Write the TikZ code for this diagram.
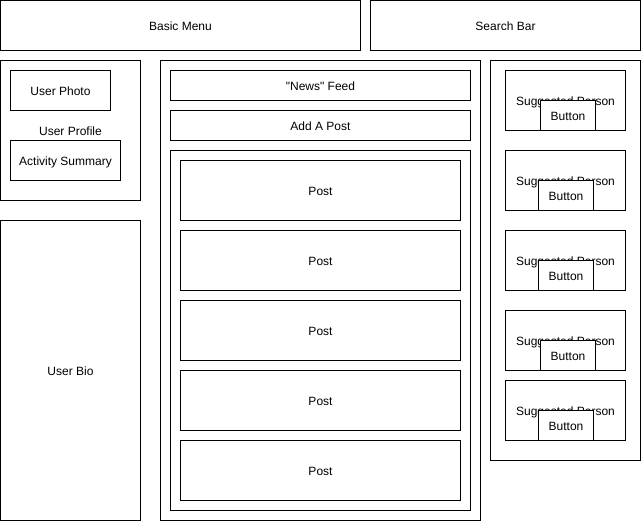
\documentclass[tikz,border=0pt]{standalone}
\usepackage{fontspec}
\setmainfont{Liberation Sans}[Ligatures=TeXOff]
\begin{document}
\begin{tikzpicture}[x=1pt,y=-1pt,
  box/.style={draw=black, fill=white, line width=1pt, inner sep=0pt, outer sep=0pt, font=\fontsize{12}{14}\selectfont, align=center, text height=9.4pt, text depth=0pt},
]
\useasboundingbox[fill=white] (0,0) rectangle (641,521);
\newcommand{\bx}[6]{\node[box, minimum width=#4pt, minimum height=#5pt] (#1) at ({#2+#4/2+0.5},{#3+#5/2+0.5}) {#6};}
% top bar
\bx{menu}{0}{0}{360}{50}{Basic Menu}
\bx{search}{370}{0}{270}{50}{Search Bar}
% left column
\bx{profile}{0}{60}{140}{140}{User Profile}
\bx{photo}{10}{70}{100}{40}{User Photo}
\bx{activity}{10}{140}{110}{40}{Activity Summary}
\bx{bio}{0}{220}{140}{300}{User Bio}
% middle
\bx{middle}{160}{60}{320}{460}{}
\bx{news}{170}{70}{300}{30}{"News" Feed}
\bx{addpost}{170}{110}{300}{30}{Add A Post}
\bx{posts}{170}{150}{300}{360}{}
\bx{post1}{180}{160}{280}{60}{Post}
\bx{post2}{180}{230}{280}{60}{Post}
\bx{post3}{180}{300}{280}{60}{Post}
\bx{post4}{180}{370}{280}{60}{Post}
\bx{post5}{180}{440}{280}{60}{Post}
% right
\bx{right}{490}{60}{150}{400}{}
\bx{sp1}{505}{70}{120}{60}{Suggested Person}
\bx{b1}{540}{100}{55}{30}{Button}
\bx{sp2}{505}{150}{120}{60}{Suggested Person}
\bx{b2}{538}{180}{55}{30}{Button}
\bx{sp3}{505}{230}{120}{60}{Suggested Person}
\bx{b3}{538}{260}{55}{30}{Button}
\bx{sp4}{505}{310}{120}{60}{Suggested Person}
\bx{b4}{540}{340}{55}{30}{Button}
\bx{sp5}{505}{380}{120}{60}{Suggested Person}
\bx{b5}{538}{410}{55}{30}{Button}
\end{tikzpicture}
\end{document}
